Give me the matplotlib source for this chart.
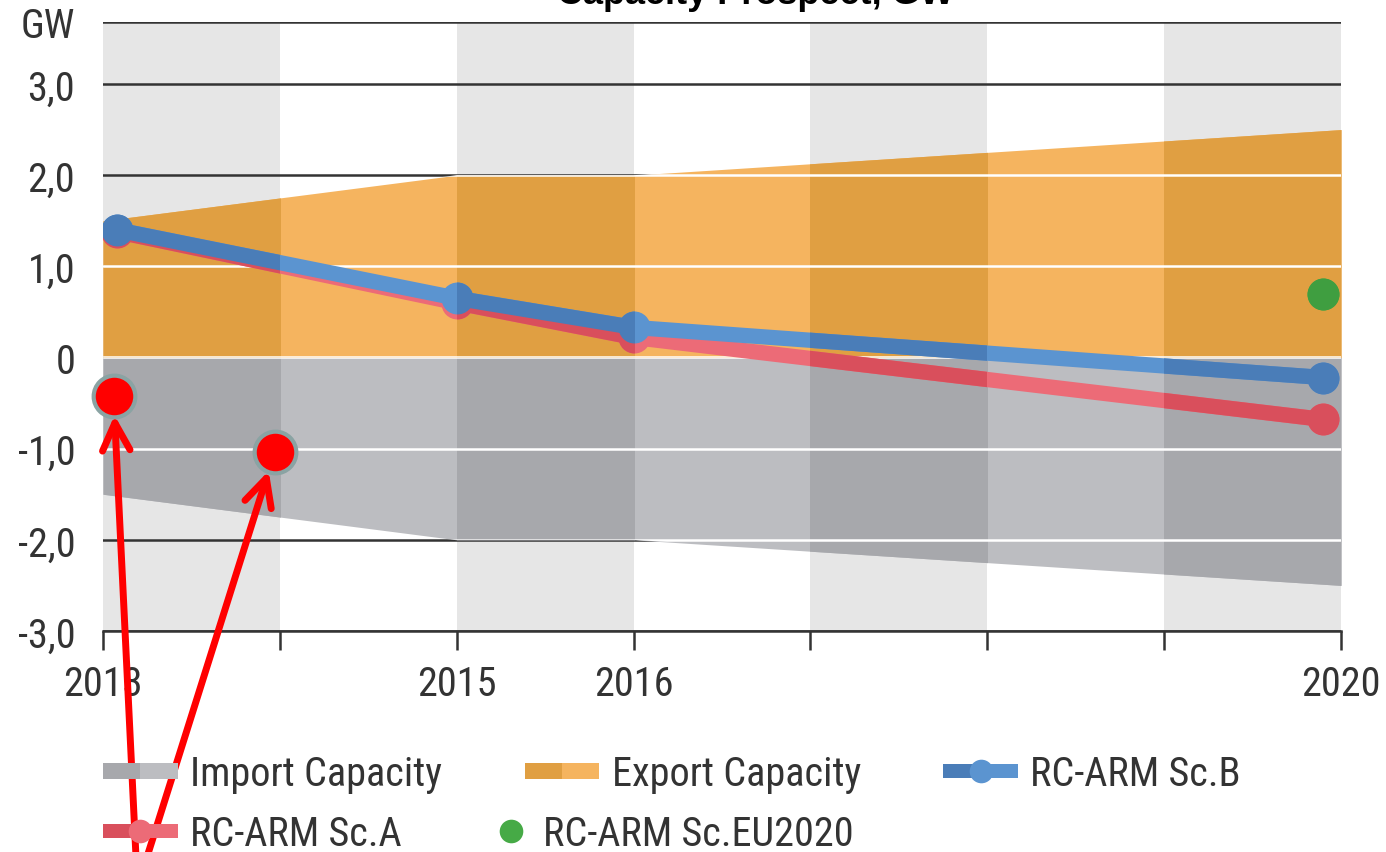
import numpy as np
import matplotlib.pyplot as plt
from matplotlib.legend_handler import HandlerBase
from matplotlib.patches import Rectangle, Patch
from matplotlib.lines import Line2D

plt.rcParams['font.family'] = ['Roboto Condensed', 'Liberation Sans Narrow', 'Liberation Sans', 'DejaVu Sans']

# eje x categórico (posiciones 0..7)
tick_pos = [0, 1, 2, 3, 4, 5, 6, 7]
tick_labels = ['2013', '', '2015', '2016', '', '', '', '2020']
bands = [0, 2, 4, 6]

# capacidades de intercambio (GW)
cap_x = [0, 1, 2, 3, 7]
export_cap = [1.5, 1.75, 2.0, 2.0, 2.5]
import_cap = [-1.5, -1.75, -2.0, -2.0, -2.5]

# escenarios RC-ARM
sc_x = [0.08, 2, 3, 6.9]
sc_b = [1.4, 0.65, 0.33, -0.22]
sc_a = [1.38, 0.6, 0.22, -0.68]
eu_x = [6.9]
eu2020 = [0.7]

yticks = [-3, -2, -1, 0, 1, 2, 3, 3.68]
ylabels = ['-3,0', '-2,0', '-1,0', '0', '1,0', '2,0', '3,0', 'GW']

# marcas rojas superpuestas
mark_x = [0.06, 0.97]
mark_y = [-0.42, -1.04]
tail_px = [(136, -5), (147, -5)]

# colores: claro (fondo blanco) y oscuro (franja gris)
light = {'imp': '#bcbdc1', 'exp': '#f5b45f', 'b': '#5b94d0', 'a': '#ec6b77', 'eu': '#46aa46'}
dark = {'imp': '#a7a8ac', 'exp': '#e09f42', 'b': '#4a7db8', 'a': '#d94f5c', 'eu': '#3f9e40'}
txt = '#333333'
fs = 29


class TwoTone(HandlerBase):
    def __init__(self, key, frac=0.45, marker=False):
        super().__init__()
        self.key = key
        self.frac = frac
        self.marker = marker

    def create_artists(self, legend, orig_handle, xdescent, ydescent,
                       width, height, fontsize, trans):
        hh = height * self.frac
        y0 = -ydescent + (height - hh) / 2
        x0 = -xdescent
        arts = [Rectangle((x0, y0), width / 2, hh, fc=dark[self.key], lw=0, transform=trans),
                Rectangle((x0 + width / 2, y0), width / 2, hh, fc=light[self.key], lw=0, transform=trans)]
        if self.marker:
            arts.append(Line2D([x0 + width / 2], [-ydescent + height / 2], marker='o', ms=17,
                               color=light[self.key], mew=0, transform=trans))
        return arts


class DotRight(HandlerBase):
    def create_artists(self, legend, orig_handle, xdescent, ydescent,
                       width, height, fontsize, trans):
        return [Line2D([-xdescent + 0.74 * width], [-ydescent + height / 2], marker='o', ms=17,
                       color=light['eu'], mew=0, ls='none', transform=trans)]


fig = plt.figure(figsize=(13.86, 8.53), dpi=100)
ax = fig.add_axes([103 / 1386, 1 - 632 / 853, (1341 - 103) / 1386, (632 - 23) / 853])
ax.set_xlim(0, 7)
ax.set_ylim(-3, 3.68)

# franjas grises de fondo
for b in bands:
    ax.axvspan(b, b + 1, color='#e6e6e6', lw=0, zorder=0)

# rejilla oscura detrás de las áreas
for y in yticks:
    ax.axhline(y, color='#333333', lw=1.8, zorder=1)


def draw_layer(cols, dz, clip=None):
    arts = []
    arts.append(ax.fill_between(cap_x, 0, export_cap, color=cols['exp'], lw=0, zorder=2 + dz))
    arts.append(ax.fill_between(cap_x, import_cap, 0, color=cols['imp'], lw=0, zorder=2 + dz))
    arts += ax.plot(sc_x, sc_a, color=cols['a'], lw=11, marker='o', ms=22,
                    solid_capstyle='butt', zorder=4 + dz)
    arts += ax.plot(sc_x, sc_b, color=cols['b'], lw=11, marker='o', ms=22,
                    solid_capstyle='butt', zorder=4.05 + dz)
    arts += ax.plot(eu_x, eu2020, 'o', color=cols['eu'], ms=22, zorder=4.05 + dz)
    if clip is not None:
        for a in arts:
            a.set_clip_path(clip)
    return arts


base = draw_layer(light, 0)
pe, pi = base[0], base[1]
for b in bands:
    rect = Rectangle((b, -3), 1, 6.68, transform=ax.transData)
    draw_layer(dark, 0.1, rect)

# rejilla blanca sobre las áreas
for poly in (pe, pi):
    path = poly.get_paths()[0]
    for y in yticks[:-1]:
        ln = ax.axhline(y, color='white', lw=1.8, zorder=3)
        ln.set_clip_path(path, ax.transData)

for s in ['left', 'right', 'top']:
    ax.spines[s].set_visible(False)
ax.spines['bottom'].set_color('#333333')
ax.spines['bottom'].set_linewidth(1.8)
ax.spines['bottom'].set_zorder(6)

ax.set_xticks(tick_pos)
ax.set_xticklabels(tick_labels)
ax.set_yticks(yticks)
ax.set_yticklabels(ylabels)
ax.tick_params(axis='x', length=14, width=1.8, color='#333333', labelsize=fs, labelcolor=txt, pad=10)
ax.tick_params(axis='y', length=0, labelsize=fs, labelcolor=txt, pad=20)

# título (cortado por el borde superior)
fig.text(0.545, 1 - 4 / 853, 'Capacity Prospect, GW', ha='center', va='baseline',
         fontsize=26, fontweight='bold', color='black',
         family=['Liberation Sans', 'DejaVu Sans'])

# leyenda en dos filas
h_imp, h_exp, h_b, h_a, h_eu = Patch(), Patch(), Patch(), Patch(), Patch()
hmap = {h_imp: TwoTone('imp'), h_exp: TwoTone('exp'),
        h_b: TwoTone('b', 0.4, True), h_a: TwoTone('a', 0.4, True), h_eu: DotRight()}
common = dict(handler_map=hmap, frameon=False, fontsize=fs, loc='upper left',
              borderpad=0, borderaxespad=0, handlelength=1.86, handleheight=1.0,
              handletextpad=0.3)
leg1 = fig.legend([h_imp, h_exp, h_b], ['Import Capacity', 'Export Capacity', 'RC-ARM Sc.B'],
                  ncol=3, columnspacing=2.05, bbox_to_anchor=(103 / 1386, 1 - 754 / 853), **common)
leg2 = fig.legend([h_a, h_eu], ['RC-ARM Sc.A', 'RC-ARM Sc.EU2020'],
                  ncol=2, columnspacing=1.35, bbox_to_anchor=(103 / 1386, 1 - 814 / 853), **common)
for lg in (leg1, leg2):
    for t in lg.get_texts():
        t.set_color(txt)

# marcas rojas con flechas
ax.plot(mark_x, mark_y, 'o', ms=30, color='red', mec='#8aa3a3', mew=3, ls='none',
        zorder=10, clip_on=False)
for (mx, my), tp in zip(zip(mark_x, mark_y), tail_px):
    ax.annotate('', xy=(mx, my), xytext=tp, textcoords='figure pixels',
                arrowprops=dict(arrowstyle='->,head_length=0.9,head_width=0.45', color='red',
                                lw=5, shrinkA=0, shrinkB=14, mutation_scale=22),
                zorder=10, annotation_clip=False)

fig.savefig('out.png', dpi=100)
